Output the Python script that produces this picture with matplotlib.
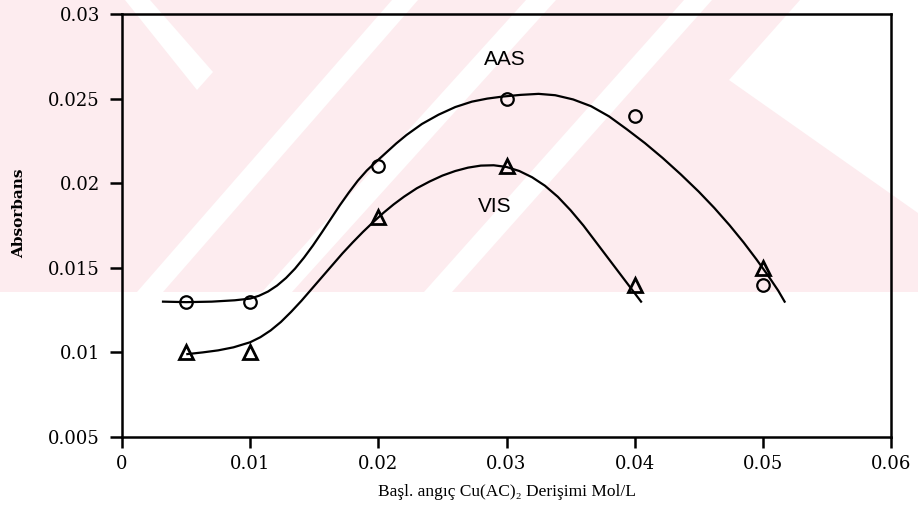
import matplotlib
matplotlib.use('Agg')
import matplotlib.pyplot as plt
from matplotlib.patches import Rectangle, Polygon

# measured points
conc = [0.005, 0.01, 0.02, 0.03, 0.04, 0.05]
aas = [0.013, 0.013, 0.021, 0.025, 0.024, 0.014]
vis = [0.010, 0.010, 0.018, 0.021, 0.014, 0.015]

# hand drawn trend curves
aas_curve_x = [0.0032, 0.0050, 0.0070, 0.0088, 0.0100, 0.0107, 0.0114, 0.0121, 0.0128,
               0.0135, 0.0142, 0.0149, 0.0156, 0.0163, 0.0170, 0.0177, 0.0184, 0.0191,
               0.0198, 0.0206, 0.0214, 0.0222, 0.0234, 0.0247, 0.0260, 0.0273, 0.0285,
               0.0297, 0.0311, 0.0325, 0.0338, 0.0352, 0.0366, 0.0380, 0.0394, 0.0408,
               0.0422, 0.0436, 0.0450, 0.0462, 0.0474, 0.0485, 0.0495, 0.0504, 0.0512,
               0.0517]
aas_curve_y = [0.01300, 0.01297, 0.01300, 0.01308, 0.01318, 0.01335, 0.01360, 0.01395, 0.01440,
               0.01495, 0.01560, 0.01632, 0.01710, 0.01790, 0.01870, 0.01945, 0.02015, 0.02075,
               0.02125, 0.02180, 0.02235, 0.02285, 0.02350, 0.02405, 0.02450, 0.02482, 0.02500,
               0.02512, 0.02522, 0.02528, 0.02520, 0.02495, 0.02455, 0.02395, 0.02318, 0.02237,
               0.02148, 0.02052, 0.01950, 0.01855, 0.01752, 0.01650, 0.01550, 0.01455, 0.01365,
               0.01300]

vis_curve_x = [0.0051, 0.0063, 0.0075, 0.0087, 0.0100, 0.0108, 0.0116, 0.0124, 0.0132,
               0.0140, 0.0148, 0.0156, 0.0164, 0.0172, 0.0180, 0.0188, 0.0196, 0.0204,
               0.0212, 0.0220, 0.0230, 0.0240, 0.0250, 0.0260, 0.0270, 0.0280, 0.0290,
               0.0300, 0.0310, 0.0320, 0.0330, 0.0340, 0.0350, 0.0360, 0.0370, 0.0380,
               0.0390, 0.0398, 0.0405]
vis_curve_y = [0.00990, 0.01000, 0.01012, 0.01030, 0.01060, 0.01090, 0.01130, 0.01180, 0.01240,
               0.01305, 0.01375, 0.01445, 0.01515, 0.01585, 0.01650, 0.01712, 0.01770, 0.01825,
               0.01875, 0.01920, 0.01970, 0.02010, 0.02045, 0.02072, 0.02092, 0.02104, 0.02106,
               0.02096, 0.02072, 0.02035, 0.01985, 0.01920, 0.01840, 0.01750, 0.01650, 0.01550,
               0.01450, 0.01370, 0.01300]

xticks = [0, 0.01, 0.02, 0.03, 0.04, 0.05, 0.06]
xticklabels = ['0', '0.01', '0.02', '0.03', '0.04', '0.05', '0.06']
yticks = [0.005, 0.01, 0.015, 0.02, 0.025, 0.03]
yticklabels = ['0.005', '0.01', '0.015', '0.02', '0.025', '0.03']

fig = plt.figure(figsize=(9.18, 5.2), dpi=100)

# pink scan watermark behind the chart
bg = fig.add_axes([0, 0, 1, 1], zorder=-1)
bg.set_xlim(0, 918)
bg.set_ylim(520, 0)
bg.axis('off')
pink = '#fdecef'
bg.add_patch(Rectangle((0, 0), 918, 292, color=pink, lw=0))
white_parts = [
    [(392, 0), (418, 0), (163, 292), (137, 292)],
    [(526, 0), (556, 0), (292, 292), (262, 292)],
    [(684, 0), (712, 0), (452, 292), (424, 292)],
    [(125, 0), (150, 0), (213, 72), (197, 90)],
    [(729, 80), (800, 0), (918, 0), (918, 213)],
]
for pts in white_parts:
    bg.add_patch(Polygon(pts, closed=True, color='white', lw=0))

ax = fig.add_axes([122 / 918, 1 - 437 / 520, (891 - 122) / 918, (437 - 14) / 520])
ax.set_facecolor('none')

ax.plot(aas_curve_x, aas_curve_y, color='black', lw=1.6, solid_joinstyle='round')
ax.plot(vis_curve_x, vis_curve_y, color='black', lw=1.6, solid_joinstyle='round')
ax.plot(conc, aas, 'o', ms=9, mfc='none', mec='black', mew=1.6)
ax.plot(conc, vis, '^', ms=10, mfc='none', mec='black', mew=2.0)

ax.text(0.0299, 0.0273, 'AAS', fontsize=15, family='Liberation Sans', ha='center', va='center')
ax.text(0.0291, 0.0186, 'VIS', fontsize=15, family='Liberation Sans', ha='center', va='center')

ax.set_xlim(0, 0.06)
ax.set_ylim(0.005, 0.03)
ax.set_xticks(xticks)
ax.set_xticklabels(xticklabels, family='DejaVu Serif', fontsize=13)
ax.set_yticks(yticks)
ax.set_yticklabels(yticklabels, family='DejaVu Serif', fontsize=13)
ax.tick_params(axis='x', direction='out', length=8, width=1.8, pad=5)
ax.tick_params(axis='y', direction='out', length=9, width=1.8, pad=7)
for s in ax.spines.values():
    s.set_linewidth(1.8)

ax.set_xlabel('Başl. angıç Cu(AC)₂ Derişimi Mol/L', family='Liberation Serif', fontsize=12.5, labelpad=8)
ax.set_ylabel('Absorbans', family='DejaVu Serif', fontsize=11, fontweight='bold')
ax.yaxis.set_label_coords(-0.125, 0.53)

plt.savefig('out.png', dpi=100)
